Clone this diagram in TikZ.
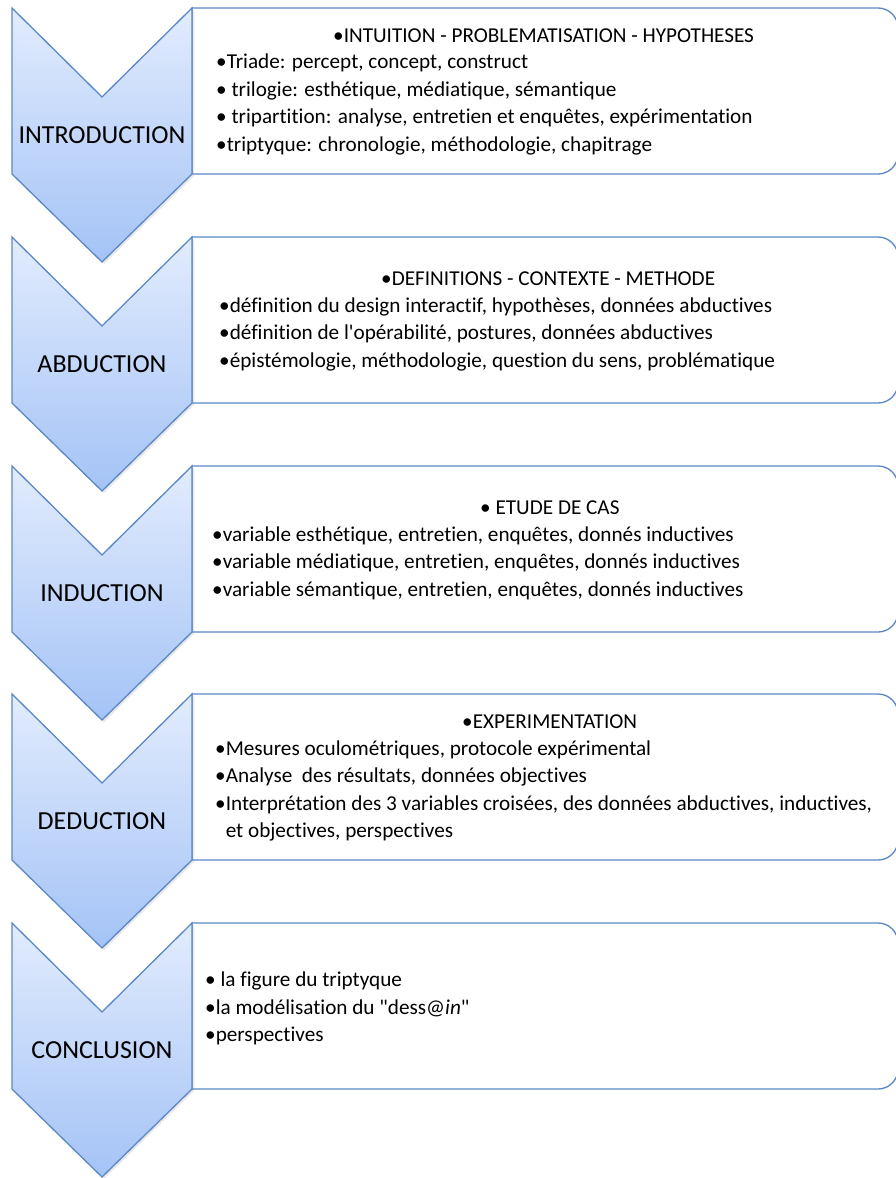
\documentclass[tikz,border=0pt]{standalone}
\usepackage{fontspec}
\setmainfont{Carlito}[Ligatures={TeXOff,NoCommon}]
\usetikzlibrary{shadows}
\definecolor{bordbleu}{HTML}{5A88C6}
\definecolor{hautbleu}{HTML}{E2ECFD}
\definecolor{basbleu}{HTML}{A4C3F6}
\tikzset{
	chevron/.style={draw=bordbleu, line width=1.3pt, line join=miter, top color=hautbleu, bottom color=basbleu,
		drop shadow={opacity=0.18, shadow xshift=2pt, shadow yshift=-2pt}},
	boite/.style={draw=bordbleu, line width=1.3pt, fill=white},
	etape/.style={font=\fontsize{26}{30}\selectfont, inner sep=0pt},
	titre/.style={anchor=west, font=\fontsize{21.2}{27.5}\selectfont, inner sep=0pt},
	liste/.style={anchor=west, align=left, font=\fontsize{21.2}{27.5}\selectfont, inner sep=0pt}
}
\begin{document}
\begin{tikzpicture}[x=1pt,y=1pt]
		\useasboundingbox (0,0) rectangle (896,-1178);
		% boites de texte
		\draw[boite] (192,-8) -- (878,-8) arc (90:0:20) -- (898,-154) arc (0:-90:20) -- (192,-174) -- cycle;
		\draw[boite] (192,-237) -- (878,-237) arc (90:0:20) -- (898,-383) arc (0:-90:20) -- (192,-403) -- cycle;
		\draw[boite] (192,-466) -- (878,-466) arc (90:0:20) -- (898,-612) arc (0:-90:20) -- (192,-632) -- cycle;
		\draw[boite] (192,-694) -- (878,-694) arc (90:0:20) -- (898,-840) arc (0:-90:20) -- (192,-860) -- cycle;
		\draw[boite] (192,-923) -- (878,-923) arc (90:0:20) -- (898,-1069) arc (0:-90:20) -- (192,-1089) -- cycle;
		% chevrons
		\draw[chevron] (12,-8) -- (102,-97) -- (192,-8) -- (192,-174) -- (102,-262) -- (12,-174) -- cycle;
		\draw[chevron] (12,-237) -- (102,-326) -- (192,-237) -- (192,-403) -- (102,-491) -- (12,-403) -- cycle;
		\draw[chevron] (12,-466) -- (102,-555) -- (192,-466) -- (192,-632) -- (102,-720) -- (12,-632) -- cycle;
		\draw[chevron] (12,-694) -- (102,-783) -- (192,-694) -- (192,-860) -- (102,-948) -- (12,-860) -- cycle;
		\draw[chevron] (12,-923) -- (102,-1012) -- (192,-923) -- (192,-1089) -- (102,-1177) -- (12,-1089) -- cycle;
		\node[etape] (intro) at (102,-135.5) {INTRODUCTION};
		\node[etape] (abduc) at (102,-364.5) {ABDUCTION};
		\node[etape] (induc) at (102,-593.5) {INDUCTION};
		\node[etape] (deduc) at (102,-821.5) {DEDUCTION};
		\node[etape] (concl) at (102,-1050.5) {CONCLUSION};
		% contenu
		\node[titre] (titre1) at (333,-36) {•INTUITION - PROBLEMATISATION - HYPOTHESES};
		\node[liste] (liste1) at (216,-104.5) {•Triade: percept, concept, construct\\• trilogie: esthétique, médiatique, sémantique\\• tripartition: analyse, entretien et enquêtes, expérimentation\\•triptyque: chronologie, méthodologie, chapitrage};
		\node[titre] (titre2) at (381,-279) {•DEFINITIONS - CONTEXTE - METHODE};
		\node[liste] (liste2) at (219,-334) {•définition du design interactif, hypothèses, données abductives\\•définition de l'opérabilité, postures, données abductives\\•épistémologie, méthodologie, question du sens, problématique};
		\node[titre] (titre3) at (480,-508) {• ETUDE DE CAS};
		\node[liste] (liste3) at (212,-563) {•variable esthétique, entretien, enquêtes, donnés inductives\\•variable médiatique, entretien, enquêtes, donnés inductives\\•variable sémantique, entretien, enquêtes, donnés inductives};
		\node[titre] (titre4) at (462,-722) {•EXPERIMENTATION};
		\node[liste] (liste4) at (215,-791) {•Mesures oculométriques, protocole expérimental\\•Analyse\ \ des résultats, données objectives\\•Interprétation des 3 variables croisées, des données abductives, inductives,\\\hphantom{•}et objectives, perspectives};
		\node[liste] (liste5) at (205,-1008.5) {• la figure du triptyque\\•la modélisation du "dess@\textit{in}"\\•perspectives};
		\end{tikzpicture}
\end{document}
